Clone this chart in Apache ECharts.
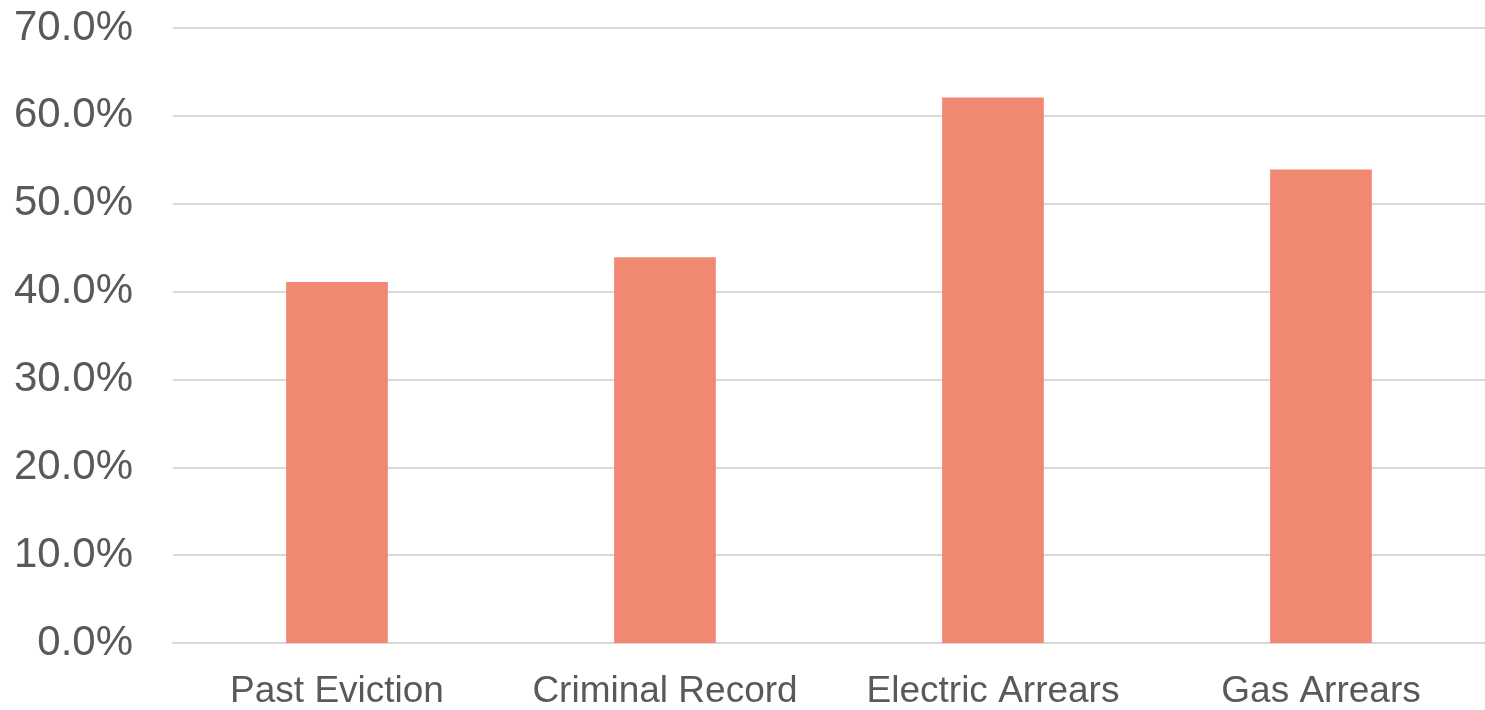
<!DOCTYPE html>
<html>
<head>
<meta charset="utf-8">
<script src="https://cdn.jsdelivr.net/npm/echarts@6/dist/echarts.min.js"></script>
<style>
  html, body { margin: 0; padding: 0; background: #fff; }
  #main { width: 1485px; height: 710px; }
</style>
</head>
<body>
<div id="main"></div>
<script>
const categories = ['Past Eviction', 'Criminal Record', 'Electric Arrears', 'Gas Arrears'];
const shares = [41.1, 43.9, 62.1, 53.9];
const yTicks = [0, 10, 20, 30, 40, 50, 60, 70];

const myChart = echarts.init(document.getElementById('main'));

const option = {
    animation: false,
    textStyle: { fontFamily: 'Liberation Sans, Arial, sans-serif' },
    grid: { left: 173, right: 0, top: 28, bottom: 66 },
    xAxis: {
        type: 'category',
        data: categories,
        axisLine: { lineStyle: { color: '#d9d9d9', width: 2 } },
        axisTick: { show: false },
        axisLabel: { color: '#595959', fontSize: 37, margin: 30, interval: 0 }
    },
    yAxis: {
        type: 'value',
        min: yTicks[0],
        max: yTicks[yTicks.length - 1],
        interval: 10,
        axisLine: { show: false },
        axisTick: { show: false },
        splitLine: { lineStyle: { color: '#d9d9d9', width: 2 } },
        axisLabel: {
            color: '#595959',
            fontSize: 42,
            margin: 40,
            formatter: v => v.toFixed(1) + '%'
        }
    },
    series: [{
        type: 'bar',
        data: shares,
        barWidth: '31%',
        itemStyle: { color: '#F08872' }
    }]
};

myChart.setOption(option);
</script>
</body>
</html>
